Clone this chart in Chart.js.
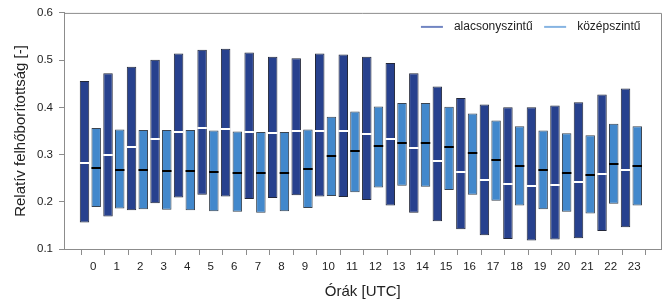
<!DOCTYPE html>
<html>
<head>
<meta charset="utf-8">
<script src="https://cdn.jsdelivr.net/npm/chart.js@4.4.0/dist/chart.umd.min.js"></script>
<style>
  html, body { margin: 0; padding: 0; background: #fff; }
</style>
</head>
<body>
<canvas id="cloudChart" width="663" height="301"></canvas>
<script>
// Hours (UTC) and y tick labels
const hours = [0, 1, 2, 3, 4, 5, 6, 7, 8, 9, 10, 11, 12, 13, 14, 15, 16, 17, 18, 19, 20, 21, 22, 23];
const yTicks = [0.1, 0.2, 0.3, 0.4, 0.5, 0.6];

// alacsonyszintű: min, max, median
const lowMin = [0.156, 0.169, 0.182, 0.197, 0.209, 0.215, 0.211, 0.206, 0.208, 0.214, 0.211, 0.210, 0.204, 0.192, 0.177, 0.159, 0.142, 0.129, 0.121, 0.118, 0.120, 0.123, 0.138, 0.146];
const lowMax = [0.456, 0.472, 0.486, 0.501, 0.514, 0.522, 0.524, 0.516, 0.507, 0.504, 0.514, 0.512, 0.507, 0.494, 0.472, 0.444, 0.420, 0.406, 0.400, 0.400, 0.404, 0.411, 0.427, 0.440];
const lowMed = [0.283, 0.300, 0.317, 0.333, 0.347, 0.356, 0.354, 0.347, 0.345, 0.350, 0.349, 0.349, 0.344, 0.333, 0.313, 0.287, 0.264, 0.246, 0.237, 0.234, 0.236, 0.241, 0.258, 0.268];

// középszintű: min, max, median
const midMin = [0.189, 0.186, 0.184, 0.183, 0.182, 0.180, 0.179, 0.177, 0.180, 0.187, 0.212, 0.220, 0.230, 0.234, 0.232, 0.225, 0.215, 0.202, 0.192, 0.184, 0.179, 0.175, 0.196, 0.192];
const midMax = [0.356, 0.353, 0.352, 0.352, 0.352, 0.351, 0.349, 0.348, 0.348, 0.353, 0.380, 0.391, 0.402, 0.409, 0.409, 0.401, 0.387, 0.372, 0.360, 0.351, 0.345, 0.341, 0.365, 0.360];
const midMed = [0.271, 0.268, 0.267, 0.266, 0.266, 0.264, 0.262, 0.261, 0.262, 0.270, 0.298, 0.308, 0.319, 0.325, 0.324, 0.317, 0.304, 0.288, 0.276, 0.267, 0.261, 0.256, 0.280, 0.276];

const FONT = '"Liberation Sans", Arial, sans-serif';
const AXIS_GRAY = '#8c8c8c';
// ticks sit a little right of each box pair in the original
const TICK_SHIFT = 0.12;
Chart.defaults.font.family = FONT;
Chart.defaults.color = '#222';

// Median marks drawn across each box
const medianLines = {
    id: 'medianLines',
    afterDatasetsDraw(chart) {
        const ctx = chart.ctx;
        const yScale = chart.scales.y;
        chart.data.datasets.forEach((ds, di) => {
            chart.getDatasetMeta(di).data.forEach((bar, i) => {
                const py = Math.round(yScale.getPixelForValue(ds.medians[i]));
                ctx.save();
                ctx.strokeStyle = ds.medianColor;
                ctx.lineWidth = 2;
                ctx.beginPath();
                ctx.moveTo(bar.x - bar.width / 2, py);
                ctx.lineTo(bar.x + bar.width / 2, py);
                ctx.stroke();
                ctx.restore();
            });
        });
    }
};

// Box round the plot + legend inside the top right corner
const frameAndLegend = {
    id: 'frameAndLegend',
    afterDraw(chart) {
        const { ctx, chartArea } = chart;
        ctx.save();
        ctx.strokeStyle = AXIS_GRAY;
        ctx.lineWidth = 1;
        ctx.beginPath();
        ctx.moveTo(chartArea.left, chartArea.top + 0.5);
        ctx.lineTo(chartArea.right, chartArea.top + 0.5);
        ctx.lineTo(chartArea.right, chartArea.bottom);
        ctx.stroke();

        ctx.font = '12px ' + FONT;
        ctx.textBaseline = 'middle';
        const y = chartArea.top + 14;
        let x = chartArea.right - 21;
        const sets = chart.data.datasets;
        for (let i = sets.length - 1; i >= 0; i--) {
            const ds = sets[i];
            x -= ctx.measureText(ds.label).width;
            ctx.fillStyle = '#222';
            ctx.fillText(ds.label, x, y);
            x -= 11;
            ctx.strokeStyle = ds.legendColor;
            ctx.lineWidth = 2;
            ctx.beginPath();
            ctx.moveTo(x - 22, y);
            ctx.lineTo(x, y);
            ctx.stroke();
            x -= 22 + 11.5;
        }
        ctx.restore();
    }
};

const ctx = document.getElementById('cloudChart').getContext('2d');
const cloudChart = new Chart(ctx, {
    type: 'bar',
    data: {
        datasets: [{
            label: 'alacsonyszintű',
            data: hours.map((h, i) => ({ x: h, y: [lowMin[i], lowMax[i]] })),
            medians: lowMed,
            medianColor: '#ffffff',
            legendColor: '#7185c2',
            backgroundColor: '#27418e',
            borderColor: '#23283a',
            borderWidth: 1,
            borderSkipped: false
        }, {
            label: 'középszintű',
            data: hours.map((h, i) => ({ x: h, y: [midMin[i], midMax[i]] })),
            medians: midMed,
            medianColor: '#000000',
            legendColor: '#86b4e2',
            backgroundColor: '#4288cc',
            borderColor: '#3a4450',
            borderWidth: 1,
            borderSkipped: false
        }]
    },
    options: {
        responsive: false,
        animation: false,
        categoryPercentage: 0.995,
        barPercentage: 0.81,
        layout: { padding: { left: 0, right: 1.5, top: 12, bottom: 0 } },
        plugins: {
            legend: { display: false },
            tooltip: { enabled: false }
        },
        scales: {
            x: {
                type: 'linear',
                min: -1.12,
                max: 24.28,
                offset: false,
                afterBuildTicks: axis => { axis.ticks = hours.map(h => ({ value: h + TICK_SHIFT })); },
                afterFit: axis => { axis.height = 52; },
                grid: { drawOnChartArea: false, drawTicks: true, tickLength: 6, color: AXIS_GRAY },
                border: { display: true, color: AXIS_GRAY },
                ticks: {
                    font: { size: 11.5 },
                    color: '#222',
                    padding: 5,
                    maxRotation: 0,
                    autoSkip: false,
                    callback: (v, i) => String(hours[i])
                },
                title: {
                    display: true,
                    text: 'Órák [UTC]',
                    font: { size: 15 },
                    color: '#222',
                    padding: { top: 0, bottom: 0 }
                }
            },
            y: {
                min: 0.1,
                max: 0.6,
                afterBuildTicks: axis => { axis.ticks = yTicks.map(v => ({ value: v })); },
                afterFit: axis => { axis.width = 64; },
                grid: { drawOnChartArea: false, drawTicks: true, tickLength: 5, color: AXIS_GRAY },
                border: { display: true, color: AXIS_GRAY },
                ticks: {
                    font: { size: 11.5 },
                    color: '#222',
                    padding: 6,
                    callback: v => v.toFixed(1)
                },
                title: {
                    display: true,
                    text: 'Relatív felhőborítottság [-]',
                    font: { size: 15 },
                    color: '#222',
                    padding: { top: 12, bottom: 0 }
                }
            }
        }
    },
    plugins: [medianLines, frameAndLegend]
});
</script>
</body>
</html>
